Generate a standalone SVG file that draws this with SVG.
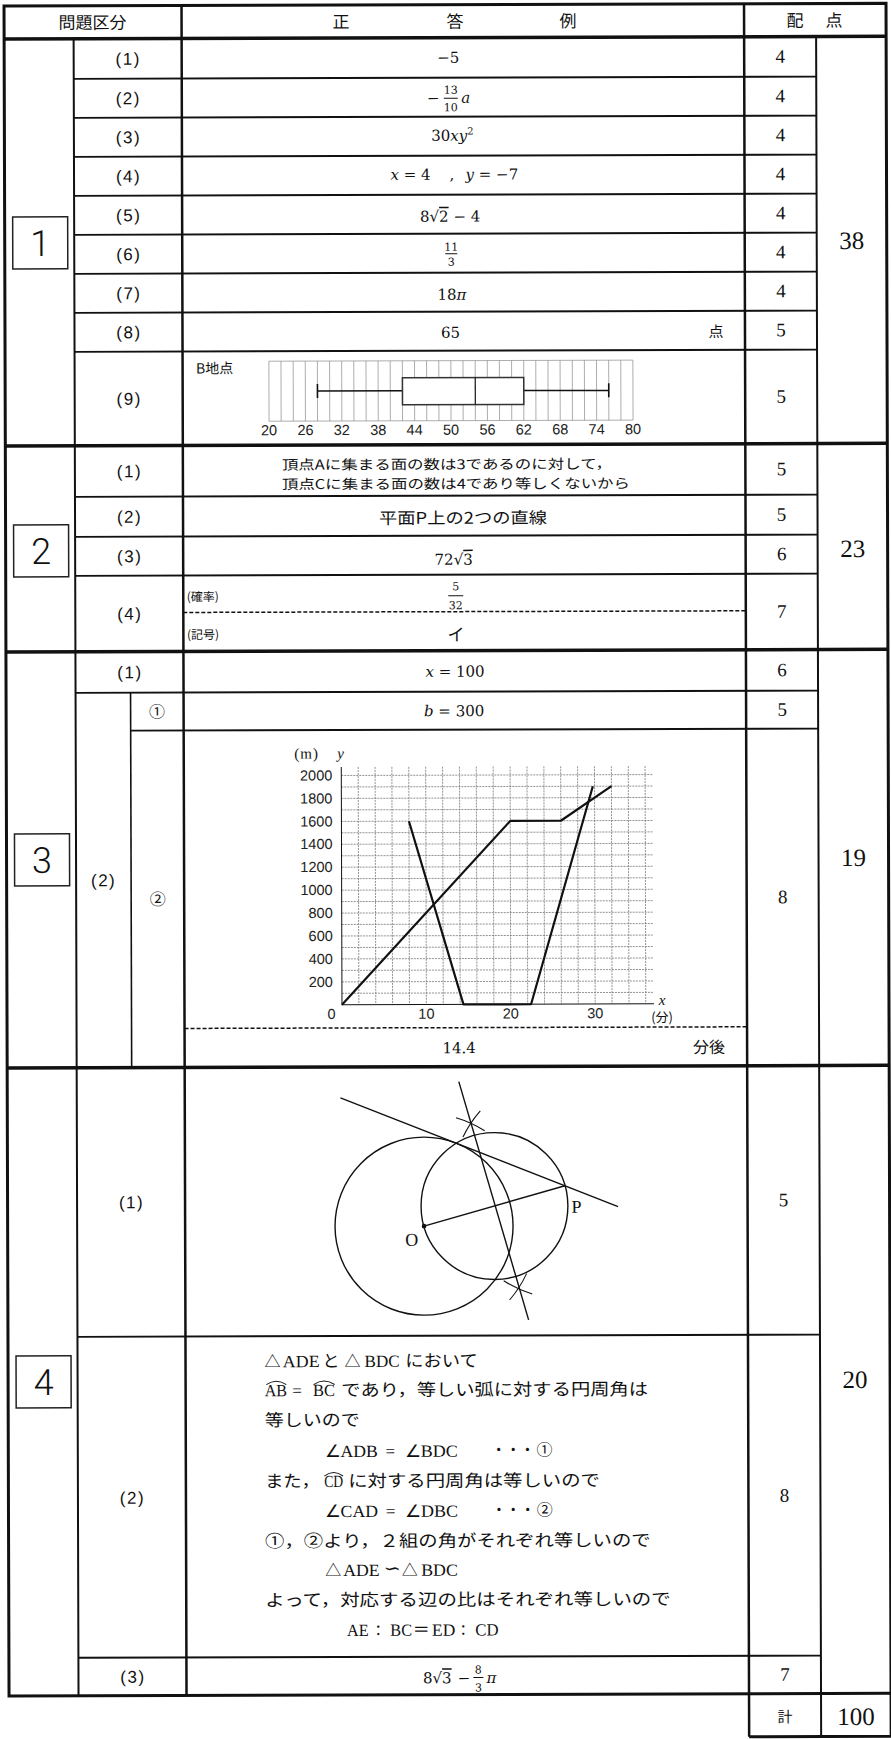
<svg xmlns="http://www.w3.org/2000/svg" width="891" height="1739" viewBox="0 0 891 1739">
<style>
.jp{font-family:"Noto Sans CJK JP","Noto Sans CJK SC",sans-serif;fill:#111}
.se{font-family:"Liberation Serif","Times New Roman",serif;fill:#111}
.lab{font-family:"Liberation Sans",Arial,sans-serif;font-size:17px;fill:#111;text-anchor:middle;letter-spacing:1.5px}
.pt{font-family:"Liberation Serif","Times New Roman",serif;font-size:19px;fill:#111;text-anchor:middle}
.tot{font-family:"Liberation Serif","Times New Roman",serif;font-size:25px;fill:#111;text-anchor:middle}
.sec{font-family:Roboto,"Liberation Sans",sans-serif;font-weight:300;font-size:36px;fill:#111;text-anchor:middle}
.m{font-family:"DejaVu Serif",serif;font-size:15px;fill:#111}
.fr{font-family:"DejaVu Serif",serif;font-size:11px;fill:#111;text-anchor:middle}
.ax{font-family:"Liberation Sans",Arial,sans-serif;font-size:14.5px;fill:#222}
.i{font-style:italic}
.c{text-anchor:middle}
.r{text-anchor:end}
.ol{text-decoration:overline}
.ln{stroke:#111;fill:none}
.grid{stroke:#8a8a8a;stroke-width:0.7;fill:none}
.gd{stroke:#777;stroke-width:0.8;stroke-dasharray:2 1;fill:none}
.bx{fill:none;stroke:#222;stroke-width:1.5}
</style>
<rect x="0" y="0" width="891" height="1739" fill="#fff"/>
<g transform="rotate(-0.17)">

<g id="table-lines">
  <rect x="4" y="6" width="882" height="1690" fill="none" stroke="#111" stroke-width="3"/>
  <path class="ln" stroke-width="3.5" d="M4,39H886 M4,446H886 M4,652H886 M4,1068H886"/>
  <path class="ln" stroke-width="2" d="M73.5,39V1696 M816,39V1739"/>
  <path class="ln" stroke-width="2.5" d="M181.5,6V1696 M744,6V1739"/>
  <path class="ln" stroke-width="1.6" d="M128.5,693V1068"/>
  <path class="ln" stroke-width="1.8" d="M73.5,79H816 M73.5,118H816 M73.5,157H816 M73.5,196H816 M73.5,235H816 M73.5,274H816 M73.5,313H816 M73.5,352H816 M73.5,497H816 M73.5,537H816 M73.5,576H816 M73.5,693H816 M128.5,731H816 M73.5,1337H816 M73.5,1658H816"/>
  <path class="ln" stroke-width="3" d="M744,1739H886V1696"/>
  <path class="ln" stroke-width="1.5" stroke-dasharray="4 2" d="M181.5,613H744 M181.5,1029H744"/>
</g>

<g id="header">
  <text class="jp c" x="92.5" y="29" font-size="17">問題区分</text>
  <text class="jp c" x="341" y="29" font-size="17">正</text>
  <text class="jp c" x="455" y="29" font-size="17">答</text>
  <text class="jp c" x="568" y="29" font-size="17">例</text>
  <text class="jp c" x="795" y="29" font-size="17">配</text>
  <text class="jp c" x="834" y="29" font-size="17">点</text>
</g>

<g id="sec1">
  <rect class="bx" x="12" y="217" width="55" height="52"/>
  <text class="sec" x="39.5" y="256">1</text>
  <text class="tot" x="851" y="251.5">38</text>
  <g id="q1-labels">
    <text class="lab" x="128" y="65">(1)</text>
    <text class="lab" x="128" y="104.5">(2)</text>
    <text class="lab" x="128" y="143.5">(3)</text>
    <text class="lab" x="128" y="182.5">(4)</text>
    <text class="lab" x="128" y="221.5">(5)</text>
    <text class="lab" x="128" y="260.5">(6)</text>
    <text class="lab" x="128" y="299.5">(7)</text>
    <text class="lab" x="128" y="338.5">(8)</text>
    <text class="lab" x="128" y="405">(9)</text>
  </g>
  <g id="q1-points">
    <text class="pt" x="780" y="65">4</text>
    <text class="pt" x="780" y="104.5">4</text>
    <text class="pt" x="780" y="143.5">4</text>
    <text class="pt" x="780" y="182.5">4</text>
    <text class="pt" x="780" y="221.5">4</text>
    <text class="pt" x="780" y="260.5">4</text>
    <text class="pt" x="780" y="299.5">4</text>
    <text class="pt" x="780" y="338.5">5</text>
    <text class="pt" x="780" y="405">5</text>
  </g>
  <g id="q1-answers">
    <text class="m c" x="448" y="64">−5</text>
    <text class="m c" x="433" y="104.5">−</text>
    <text class="fr" x="450.5" y="95">13</text>
    <path class="ln" stroke-width="1" d="M443.5,99.5H457.5"/>
    <text class="fr" x="450.5" y="112.5">10</text>
    <text class="m i" x="461" y="104" font-size="12">a</text>
    <text class="m c" x="452" y="142">30<tspan class="i">xy</tspan><tspan dy="-6" font-size="10">2</tspan></text>
    <text class="m" x="390" y="181"><tspan class="i">x</tspan> = 4</text>
    <text class="m" x="449" y="181">,</text>
    <text class="m" x="465" y="181"><tspan class="i">y</tspan> = −7</text>
    <text class="m c" x="449.5" y="223">8√<tspan class="ol">2</tspan> − 4</text>
    <text class="fr" x="450.5" y="252">11</text>
    <path class="ln" stroke-width="1" d="M444.5,255H456.5"/>
    <text class="fr" x="450.5" y="267">3</text>
    <text class="m c" x="451" y="301">18<tspan class="i">π</tspan></text>
    <text class="m c" x="449.5" y="339">65</text>
    <text class="jp c" x="715" y="339" font-size="15">点</text>
  </g>
  <g id="q1-9-boxplot">
    <text class="jp" x="195" y="374" font-size="14">B地点</text>
    <path class="grid" d="M267.8,362V422 M279.9,362V422 M292.1,362V422 M304.2,362V422 M316.3,362V422 M328.5,362V422 M340.6,362V422 M352.7,362V422 M364.9,362V422 M377,362V422 M389.1,362V422 M401.3,362V422 M413.4,362V422 M425.5,362V422 M437.7,362V422 M449.8,362V422 M461.9,362V422 M474.1,362V422 M486.2,362V422 M498.3,362V422 M510.5,362V422 M522.6,362V422 M534.7,362V422 M546.9,362V422 M559,362V422 M571.2,362V422 M583.3,362V422 M595.4,362V422 M607.6,362V422 M619.7,362V422 M631.8,362V422 M267.8,362H631.8 M267.8,422H631.8"/>
    <path class="ln" stroke="#333" stroke-width="1.6" d="M316.3,392H401.3 M522.6,392H607.6 M316.3,385V399 M607.6,385V399"/>
    <rect x="401.3" y="379" width="121.3" height="27" fill="#fff" stroke="#333" stroke-width="1.5"/>
    <path class="ln" stroke="#333" stroke-width="1.2" d="M474.1,379V406"/>
    <g class="ax" text-anchor="middle" font-size="14">
      <text x="267.8" y="436">20</text><text x="304.2" y="436">26</text><text x="340.6" y="436">32</text>
      <text x="377" y="436">38</text><text x="413.4" y="436">44</text><text x="449.8" y="436">50</text>
      <text x="486.2" y="436">56</text><text x="522.6" y="436">62</text><text x="559" y="436">68</text>
      <text x="595.4" y="436">74</text><text x="631.8" y="436">80</text>
    </g>
  </g>
</g>

<g id="sec2">
  <rect class="bx" x="12" y="525" width="55" height="52"/>
  <text class="sec" x="39.5" y="564">2</text>
  <text class="tot" x="851" y="559.5">23</text>
  <text class="lab" x="128" y="477.5">(1)</text>
  <text class="lab" x="128" y="523">(2)</text>
  <text class="lab" x="128" y="562.5">(3)</text>
  <text class="lab" x="128" y="620">(4)</text>
  <text class="pt" x="780" y="477.5">5</text>
  <text class="pt" x="780" y="523">5</text>
  <text class="pt" x="780" y="562.5">6</text>
  <text class="pt" x="780" y="620">7</text>
  <text class="jp" font-size="13.5"><tspan x="280.5" y="470.5" textLength="330" lengthAdjust="spacingAndGlyphs">頂点Aに集まる面の数は3であるのに対して，</tspan><tspan x="280.5" y="490" textLength="348" lengthAdjust="spacingAndGlyphs">頂点Cに集まる面の数は4であり等しくないから</tspan></text>
  <text class="jp c" x="461.5" y="525" font-size="16" textLength="168" lengthAdjust="spacingAndGlyphs">平面P上の2つの直線</text>
  <text class="m c" x="452" y="566">72√<tspan class="ol">3</tspan></text>
  <text class="jp" x="185" y="601.5" font-size="12">(確率)</text>
  <text class="fr" x="454" y="591.5" font-size="12">5</text>
  <path class="ln" stroke-width="1" d="M446.5,597H461.5"/>
  <text class="fr" x="454" y="610.5" font-size="12">32</text>
  <text class="jp" x="185" y="639.5" font-size="12">(記号)</text>
  <text class="jp c" x="454" y="642" font-size="17">イ</text>
</g>

<g id="sec3">
  <rect class="bx" x="12" y="834" width="55" height="52"/>
  <text class="sec" x="39.5" y="873">3</text>
  <text class="tot" x="851" y="868.5">19</text>
  <text class="lab" x="128" y="678.5">(1)</text>
  <text class="lab" x="101" y="886.5">(2)</text>
  <text class="jp c" x="155" y="718" font-size="16">①</text>
  <text class="jp c" x="155" y="905.5" font-size="16">②</text>
  <text class="pt" x="780" y="678.5">6</text>
  <text class="pt" x="780" y="718">5</text>
  <text class="pt" x="780" y="905.5">8</text>
  <text class="m c" x="453" y="678"><tspan class="i">x</tspan> = 100</text>
  <text class="m c" x="452" y="717.5"><tspan class="i">b</tspan> = 300</text>
  <g id="q3-graph">
    <path class="gd" d="M355.9,768V1005.8 M372.8,768V1005.8 M389.6,768V1005.8 M406.5,768V1005.8 M423.4,768V1005.8 M440.3,768V1005.8 M457.2,768V1005.8 M474,768V1005.8 M490.9,768V1005.8 M507.8,768V1005.8 M524.7,768V1005.8 M541.6,768V1005.8 M558.4,768V1005.8 M575.3,768V1005.8 M592.2,768V1005.8 M609.1,768V1005.8 M626,768V1005.8 M642.8,768V1005.8"/>
    <path class="gd" d="M339,994.3H651 M339,982.9H651 M339,971.4H651 M339,959.9H651 M339,948.5H651 M339,937H651 M339,925.5H651 M339,914.1H651 M339,902.6H651 M339,891.2H651 M339,879.7H651 M339,868.2H651 M339,856.8H651 M339,845.3H651 M339,833.8H651 M339,822.4H651 M339,810.9H651 M339,799.4H651 M339,788H651 M339,776.5H651"/>
    <path class="ln" stroke="#444" stroke-width="1" d="M339,768V1005.8H651"/>
    <g class="ax r">
      <text x="330" y="988">200</text><text x="330" y="965">400</text><text x="330" y="942">600</text>
      <text x="330" y="919">800</text><text x="330" y="896">1000</text><text x="330" y="873">1200</text>
      <text x="330" y="850">1400</text><text x="330" y="827.5">1600</text><text x="330" y="804.5">1800</text>
      <text x="330" y="781.5">2000</text>
    </g>
    <g class="ax c">
      <text x="328.5" y="1020">0</text><text x="423.4" y="1020">10</text>
      <text x="507.8" y="1020">20</text><text x="592.2" y="1020">30</text>
    </g>
    <text class="se" x="292" y="759.5" font-size="15" letter-spacing="1">(m)</text>
    <text class="se i" x="335" y="759.5" font-size="15">y</text>
    <text class="se i c" x="659" y="1007" font-size="15">x</text>
    <text class="jp c" x="659" y="1024" font-size="13">(分)</text>
    <path class="ln" stroke-width="2.2" stroke-linejoin="round" d="M339,1005.8L507.8,822.4H558.4L609.1,788"/>
    <path class="ln" stroke-width="2.2" stroke-linejoin="round" d="M406.5,822.4L460.5,1005.8H528.1L590.5,788"/>
  </g>
  <text class="m c" x="456" y="1054.5">14.4</text>
  <text class="jp c" x="706" y="1055" font-size="16">分後</text>
</g>

<g id="sec4">
  <rect class="bx" x="12" y="1356" width="55" height="52"/>
  <text class="sec" x="39.5" y="1395">4</text>
  <text class="tot" x="851" y="1390.5">20</text>
  <text class="lab" x="128" y="1208.5">(1)</text>
  <text class="lab" x="128" y="1504">(2)</text>
  <text class="lab" x="128" y="1683">(3)</text>
  <text class="pt" x="780" y="1208.5">5</text>
  <text class="pt" x="780" y="1504">8</text>
  <text class="pt" x="780" y="1683">7</text>
  <g id="q4-construction" class="ln" stroke-width="1.4">
    <circle cx="420.4" cy="1227.4" r="89"/>
    <circle cx="490.9" cy="1207.5" r="73.4"/>
    <path d="M337.2,1098.8L614.5,1208.4"/>
    <path d="M420.4,1227.4L561.4,1187.4"/>
    <path d="M455.6,1083L524.7,1321.4"/>
    <path stroke-width="1.1" d="M452.7,1119.1A113,113 0 0 1 481.3,1132.2 M459.6,1138.4A113,113 0 0 1 477,1112.2 M522.8,1275.2A113,113 0 0 1 505.7,1301.5 M528.4,1295.5A113,113 0 0 1 499.9,1282.2"/>
    <circle cx="420.4" cy="1227.4" r="1.6" fill="#111"/>
  </g>
  <text class="se c" x="408" y="1247" font-size="18">O</text>
  <text class="se c" x="573" y="1214.5" font-size="18">P</text>
  <g id="q4-proof">
    <text class="jp" x="260.5" y="1368" font-size="16">△</text>
    <text class="se" x="278.8" y="1368" font-size="17" textLength="36.7" lengthAdjust="spacingAndGlyphs">ADE</text>
    <text class="jp" x="318.5" y="1368" font-size="17">と</text>
    <text class="jp" x="340.5" y="1368" font-size="16">△</text>
    <text class="se" x="360.5" y="1368" font-size="17" textLength="35" lengthAdjust="spacingAndGlyphs">BDC</text>
    <text class="jp" x="401.2" y="1368" font-size="17" textLength="72.6" lengthAdjust="spacingAndGlyphs">において</text>

    <text class="se" x="260.5" y="1397" font-size="17" textLength="22.3" lengthAdjust="spacingAndGlyphs">AB</text>
    <text class="se c" x="293" y="1397" font-size="17">=</text>
    <text class="se" x="308.8" y="1397" font-size="17" textLength="22" lengthAdjust="spacingAndGlyphs">BC</text>
    <path class="ln" stroke-width="1" d="M262.2,1385.5Q272.2,1378.5 282.2,1385.5 M309.5,1385.5Q320,1378.5 330.5,1385.5"/>
    <text class="jp" x="337.2" y="1397" font-size="17" textLength="306.6" lengthAdjust="spacingAndGlyphs">であり，等しい弧に対する円周角は</text>

    <text class="jp" x="260.5" y="1427" font-size="17" textLength="95" lengthAdjust="spacingAndGlyphs">等しいので</text>

    <text class="se" x="320.5" y="1458" font-size="17" textLength="53" lengthAdjust="spacingAndGlyphs">∠ADB</text>
    <text class="se c" x="386" y="1458" font-size="17">=</text>
    <text class="se" x="400.5" y="1458" font-size="17" textLength="53" lengthAdjust="spacingAndGlyphs">∠BDC</text>
    <text class="jp" x="487.2" y="1457" font-size="16" textLength="43.3" lengthAdjust="spacingAndGlyphs">・・・</text>
    <text class="jp" x="532.2" y="1457" font-size="16">①</text>

    <text class="jp" x="260.5" y="1488" font-size="17" textLength="55" lengthAdjust="spacingAndGlyphs">また，</text>
    <text class="se" x="319.8" y="1488" font-size="17" textLength="19" lengthAdjust="spacingAndGlyphs">CD</text>
    <path class="ln" stroke-width="1" d="M320,1477Q329.3,1470 338.6,1477"/>
    <text class="jp" x="343.8" y="1488" font-size="17" textLength="251.7" lengthAdjust="spacingAndGlyphs">に対する円周角は等しいので</text>

    <text class="se" x="320.5" y="1518" font-size="17" textLength="53" lengthAdjust="spacingAndGlyphs">∠CAD</text>
    <text class="se c" x="386" y="1518" font-size="17">=</text>
    <text class="se" x="400.5" y="1518" font-size="17" textLength="53" lengthAdjust="spacingAndGlyphs">∠DBC</text>
    <text class="jp" x="487.2" y="1517" font-size="16" textLength="43.3" lengthAdjust="spacingAndGlyphs">・・・</text>
    <text class="jp" x="532.2" y="1517" font-size="16">②</text>

    <text class="jp" x="260.5" y="1548" font-size="17" textLength="385.6" lengthAdjust="spacingAndGlyphs">①，②より，２組の角がそれぞれ等しいので</text>

    <text class="jp" x="320.5" y="1577" font-size="16">△</text>
    <text class="se" x="338.5" y="1577" font-size="17" textLength="36.5" lengthAdjust="spacingAndGlyphs">ADE</text>
    <text x="379" y="1576" font-family="'DejaVu Sans',sans-serif" font-size="19" fill="#111" textLength="17" lengthAdjust="spacingAndGlyphs">∽</text>
    <text class="jp" x="397.2" y="1577" font-size="16">△</text>
    <text class="se" x="416.5" y="1577" font-size="17" textLength="36.7" lengthAdjust="spacingAndGlyphs">BDC</text>

    <text class="jp" x="260.5" y="1607" font-size="17" textLength="405.5" lengthAdjust="spacingAndGlyphs">よって，対応する辺の比はそれぞれ等しいので</text>

    <text class="se" x="342.2" y="1637" font-size="17" textLength="21.6" lengthAdjust="spacingAndGlyphs">AE</text>
    <text class="jp" x="366" y="1637" font-size="15">：</text>
    <text class="se" x="385.5" y="1637" font-size="17" textLength="21.7" lengthAdjust="spacingAndGlyphs">BC</text>
    <text class="jp" x="408" y="1637" font-size="17">＝</text>
    <text class="se" x="427.2" y="1637" font-size="17" textLength="23.3" lengthAdjust="spacingAndGlyphs">ED</text>
    <text class="jp" x="451" y="1637" font-size="15">：</text>
    <text class="se" x="470.5" y="1637" font-size="17" textLength="23.3" lengthAdjust="spacingAndGlyphs">CD</text>
  </g>
  <text class="m" x="418" y="1684.5">8√<tspan class="ol">3</tspan></text>
  <text class="m c" x="459" y="1684.5">−</text>
  <text class="fr" x="473.4" y="1675">8</text>
  <path class="ln" stroke-width="1" d="M468.4,1679H478.4"/>
  <text class="fr" x="473.4" y="1693">3</text>
  <text class="m i" x="481.5" y="1684.5">π</text>
</g>

<g id="total">
  <text class="jp c" x="780" y="1724.5" font-size="15">計</text>
  <text class="tot" x="851" y="1727.5">100</text>
</g>
</g>
</svg>
